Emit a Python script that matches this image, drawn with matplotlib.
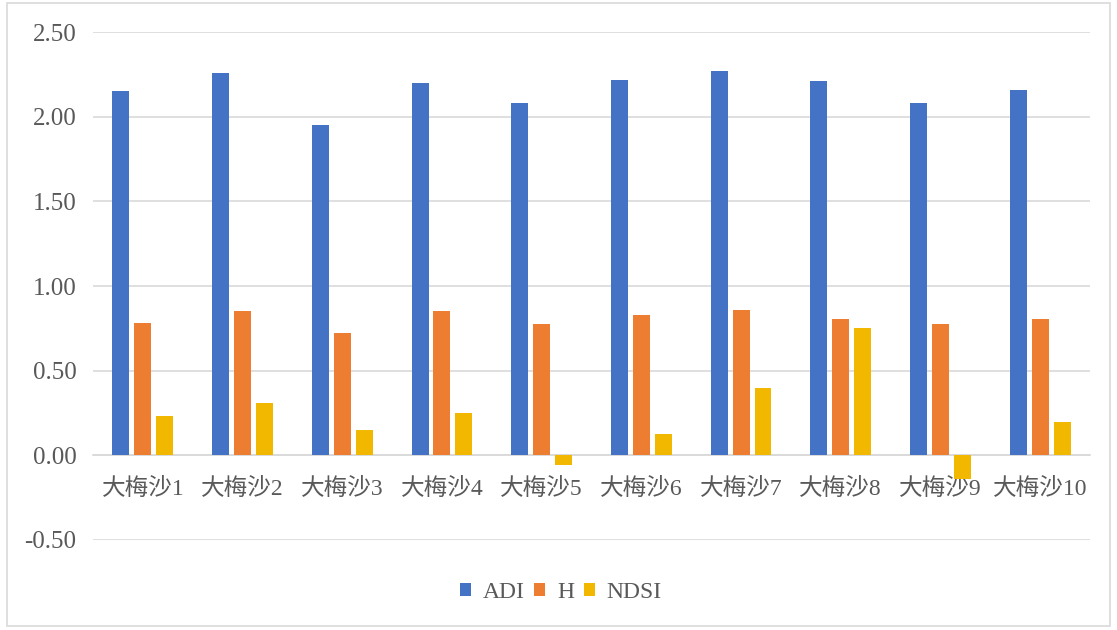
import matplotlib.pyplot as plt
import numpy as np
from matplotlib.patches import Rectangle

plt.rcParams['font.family'] = ['Liberation Serif', 'Noto Sans CJK SC']

sites = ['大梅沙1', '大梅沙2', '大梅沙3', '大梅沙4', '大梅沙5',
         '大梅沙6', '大梅沙7', '大梅沙8', '大梅沙9', '大梅沙10']
adi = [2.15, 2.26, 1.95, 2.20, 2.08, 2.22, 2.27, 2.21, 2.08, 2.16]
h = [0.78, 0.855, 0.725, 0.85, 0.778, 0.83, 0.86, 0.806, 0.773, 0.804]
ndsi = [0.23, 0.31, 0.15, 0.25, -0.06, 0.125, 0.40, 0.753, -0.143, 0.195]

colors = ['#4472C4', '#ED7D31', '#F2B800']
grey_text = '#595959'
grid_c = '#D9D9D9'

fig = plt.figure(figsize=(11.17, 6.3), dpi=100)
ax = fig.add_axes([0.0833, 0.143, 0.8925, 0.806])

x = np.arange(len(sites))
w = 0.17
step = 0.22
ax.bar(x - step, adi, w, color=colors[0], label='ADI', zorder=3)
ax.bar(x, h, w, color=colors[1], label='H', zorder=3)
ax.bar(x + step, ndsi, w, color=colors[2], label='NDSI', zorder=3)

ax.set_xlim(-0.5, len(sites) - 0.5)
ax.set_ylim(-0.5, 2.5)
ax.set_yticks(np.arange(-0.5, 2.51, 0.5))
ax.set_yticklabels([f'{v:.2f}' for v in np.arange(-0.5, 2.51, 0.5)])
ax.yaxis.grid(True, color=grid_c, linewidth=1.2, zorder=0)

# category axis sits on the zero line
ax.spines['bottom'].set_position(('data', 0))
ax.spines['bottom'].set_color(grid_c)
ax.spines['bottom'].set_linewidth(1.2)
for s in ['top', 'right', 'left']:
    ax.spines[s].set_visible(False)

ax.set_xticks(x)
ax.set_xticklabels(sites)
ax.tick_params(axis='x', length=0, pad=16, labelsize=17, labelcolor=grey_text)
ax.tick_params(axis='y', length=0, pad=12, labelsize=18, labelcolor=grey_text)

# legend centred on the whole figure, not the plot area
leg = fig.legend(*ax.get_legend_handles_labels(), loc='center',
                 bbox_to_anchor=(0.502, 0.06), ncol=3, frameon=False,
                 fontsize=17, handlelength=0.47, handleheight=0.47, handletextpad=0.5,
                 columnspacing=0.4, labelcolor=grey_text)

fig.patches.append(Rectangle((0.006, 0.006), 0.988, 0.99, transform=fig.transFigure,
                             fill=False, edgecolor='#D9D9D9', linewidth=1.2))

fig.savefig('out.png', dpi=100)
